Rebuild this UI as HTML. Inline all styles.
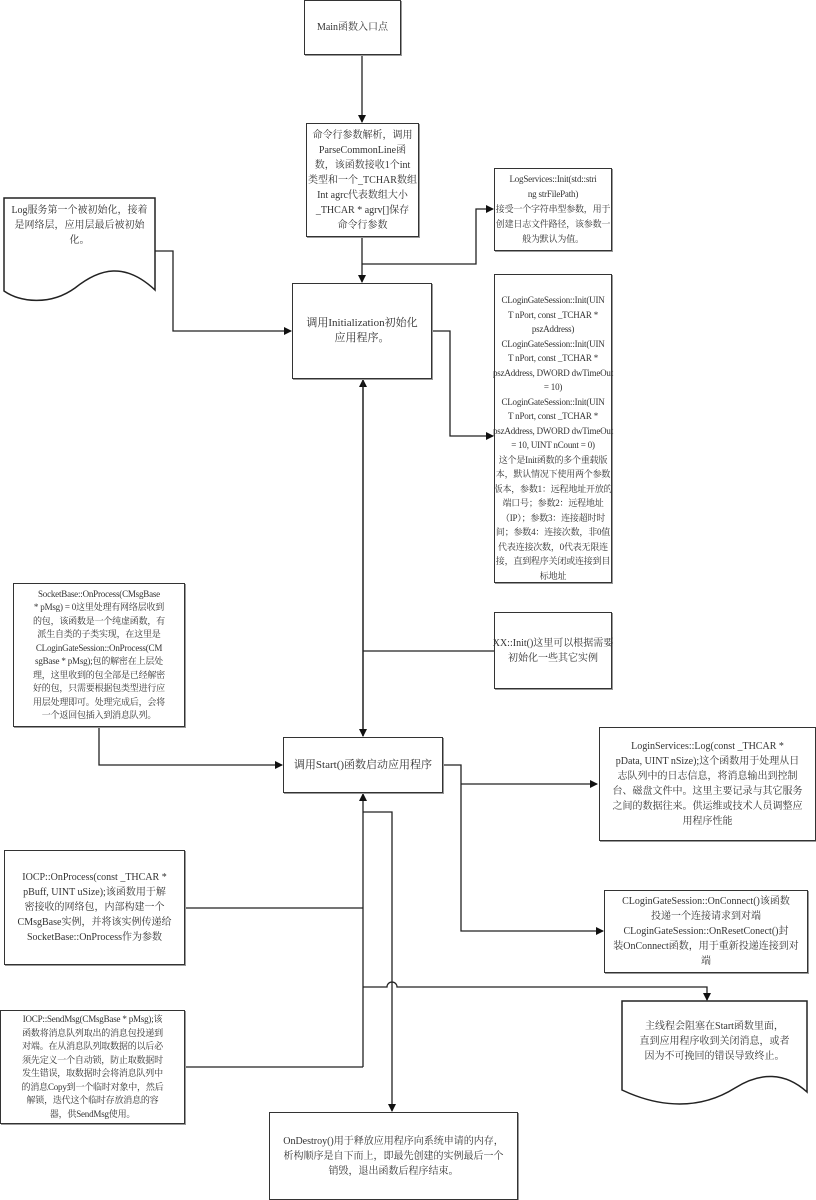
<!DOCTYPE html>
<html><head><meta charset="utf-8"><style>
html,body{margin:0;padding:0;background:#fff;}
body{width:816px;height:1200px;position:relative;overflow:hidden;font-family:"Liberation Serif","Noto Serif CJK SC",serif;color:#333;}
.b{position:absolute;box-sizing:border-box;border:1.5px solid #333;box-shadow:1px 1px 0 #999;display:flex;align-items:center;justify-content:center;text-align:center;font-size:10px;line-height:15px;white-space:nowrap;overflow:visible;}
.t{position:absolute;display:flex;align-items:center;justify-content:center;text-align:center;font-size:10px;line-height:15px;white-space:nowrap;}
.s{font-size:9px;letter-spacing:-0.2px;}
svg{position:absolute;left:0;top:0;}
</style></head><body>
<svg width="816" height="1200" viewBox="0 0 816 1200">
<defs><marker id="a" markerWidth="8" markerHeight="8" refX="7" refY="4" orient="auto" markerUnits="userSpaceOnUse"><path d="M0,0 L8,4 L0,8 Z" fill="#111"/></marker></defs>
<g stroke="#222" stroke-width="1.3" fill="none">
<line x1="362" y1="55" x2="362" y2="122" marker-end="url(#a)"/>
<line x1="362" y1="237" x2="362" y2="282" marker-end="url(#a)"/>
<polyline points="362,264 476,264 476,209 493,209" marker-end="url(#a)"/>
<polyline points="155,251 173,251 173,331 291,331" marker-end="url(#a)"/>
<polyline points="432,331 450,331 450,436 493,436" marker-end="url(#a)"/>
<line x1="363" y1="736" x2="363" y2="380" marker-end="url(#a)"/>
<line x1="363" y1="380" x2="363" y2="736" marker-end="url(#a)"/>
<line x1="363" y1="651" x2="494" y2="651"/>
<polyline points="99,727 99,765 282,765" marker-end="url(#a)"/>
<polyline points="443,765 461,765 461,931 603,931" marker-end="url(#a)"/>
<line x1="461" y1="784" x2="597" y2="784" marker-end="url(#a)"/>
<line x1="363" y1="1067" x2="363" y2="794" marker-end="url(#a)"/>
<line x1="185" y1="908" x2="363" y2="908"/>
<polyline points="185,1067 363,1067"/>
<polyline points="363,812 392,812 392,1111" marker-end="url(#a)"/>
<path d="M363,987 H387 A5,5 0 0 1 397,987 H707 V1000" marker-end="url(#a)"/>
<path d="M4,198 H155 V290 C125,262 100,268 75,288 C50,306 20,302 4,291 Z" fill="#fff" stroke-width="1.5"/>
<path d="M622,1001 H807 V1092 C785,1072 760,1072 735,1088 C700,1110 660,1108 622,1090 Z" fill="#fff" stroke-width="1.5"/>
</g>
</svg>
<div class="b" style="left:304px;top:0;width:97px;height:55px;">Main函数入口点</div>
<div class="b" style="left:306px;top:123px;width:113px;height:114px;">命令行参数解析，调用<br>ParseCommonLine函<br>数，该函数接收1个int<br>类型和一个_TCHAR数组<br>Int agrc代表数组大小<br>_THCAR * agrv[]保存<br>命令行参数</div>
<div class="t" style="left:4px;top:205px;width:151px;height:40px;">Log服务第一个被初始化，接着<br>是网络层，应用层最后被初始<br>化。</div>
<div class="b s" style="left:494px;top:168px;width:118px;height:83px;">LogServices::Init(std::stri<br>ng strFilePath)<br>接受一个字符串型参数，用于<br>创建日志文件路径，该参数一<br>般为默认为值。</div>
<div class="b" style="left:292px;top:283px;width:140px;height:96px;font-size:11px;">调用Initialization初始化<br>应用程序。</div>
<div class="b s" style="left:494px;top:274px;width:118px;height:309px;align-items:flex-start;padding-top:18px;line-height:14.5px;">CLoginGateSession::Init(UIN<br>T nPort, const _TCHAR *<br>pszAddress)<br>CLoginGateSession::Init(UIN<br>T nPort, const _TCHAR *<br>pszAddress, DWORD dwTimeOut<br>= 10)<br>CLoginGateSession::Init(UIN<br>T nPort, const _TCHAR *<br>pszAddress, DWORD dwTimeOut<br>= 10, UINT nCount = 0)<br>这个是Init函数的多个重载版<br>本，默认情况下使用两个参数<br>版本，参数1：远程地址开放的<br>端口号；参数2：远程地址<br>（IP）；参数3：连接超时时<br>间；参数4：连接次数，非0值<br>代表连接次数，0代表无限连<br>接，直到程序关闭或连接到目<br>标地址</div>
<div class="b s" style="left:13px;top:583px;width:172px;height:144px;line-height:13.5px;">SocketBase::OnProcess(CMsgBase<br>* pMsg) = 0这里处理有网络层收到<br>的包，该函数是一个纯虚函数，有<br>派生自类的子类实现，在这里是<br>CLoginGateSession::OnProcess(CM<br>sgBase * pMsg);包的解密在上层处<br>理，这里收到的包全部是已经解密<br>好的包，只需要根据包类型进行应<br>用层处理即可。处理完成后，会将<br>一个返回包插入到消息队列。</div>
<div class="b" style="left:494px;top:612px;width:118px;height:77px;">XX::Init()这里可以根据需要<br>初始化一些其它实例</div>
<div class="b" style="left:283px;top:737px;width:160px;height:56px;font-size:11px;">调用Start()函数启动应用程序</div>
<div class="b" style="left:599px;top:727px;width:217px;height:114px;">LoginServices::Log(const _THCAR *<br>pData, UINT nSize);这个函数用于处理从日<br>志队列中的日志信息，将消息输出到控制<br>台、磁盘文件中。这里主要记录与其它服务<br>之间的数据往来。供运维或技术人员调整应<br>用程序性能</div>
<div class="b" style="left:4px;top:850px;width:181px;height:115px;">IOCP::OnProcess(const _THCAR *<br>pBuff, UINT uSize);该函数用于解<br>密接收的网络包，内部构建一个<br>CMsgBase实例，并将该实例传递给<br>SocketBase::OnProcess作为参数</div>
<div class="b" style="left:604px;top:890px;width:204px;height:83px;">CLoginGateSession::OnConnect()该函数<br>投递一个连接请求到对端<br>CLoginGateSession::OnResetConect()封<br>装OnConnect函数，用于重新投递连接到对<br>端</div>
<div class="b s" style="left:0;top:1010px;width:185px;height:114px;line-height:13.5px;">IOCP::SendMsg(CMsgBase * pMsg);该<br>函数将消息队列取出的消息包投递到<br>对端。在从消息队列取数据的以后必<br>须先定义一个自动锁，防止取数据时<br>发生错误，取数据时会将消息队列中<br>的消息Copy到一个临时对象中，然后<br>解锁，迭代这个临时存放消息的容<br>器，供SendMsg使用。</div>
<div class="t" style="left:622px;top:1016px;width:185px;height:50px;">主线程会阻塞在Start函数里面，<br>直到应用程序收到关闭消息，或者<br>因为不可挽回的错误导致终止。</div>
<div class="b" style="left:269px;top:1112px;width:249px;height:88px;">OnDestroy()用于释放应用程序向系统申请的内存，<br>析构顺序是自下而上，即最先创建的实例最后一个<br>销毁，退出函数后程序结束。</div>
</body></html>
